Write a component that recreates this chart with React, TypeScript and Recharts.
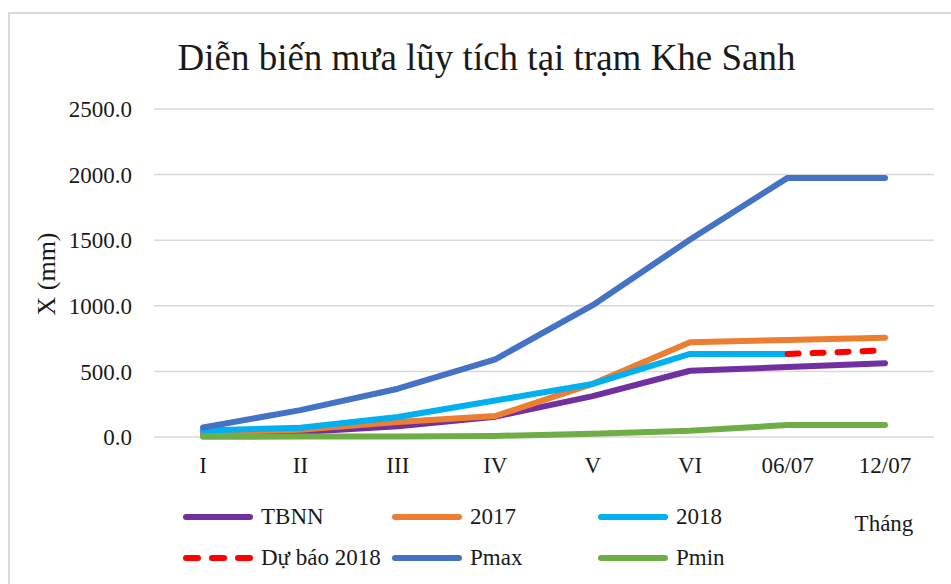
import { LineChart, Line, XAxis, YAxis, CartesianGrid, Legend, Label } from "recharts";

const months = ["I", "II", "III", "IV", "V", "VI", "06/07", "12/07"];
const tbnn = [25, 38, 82, 155, 312, 505, 533, 562];
const y2017 = [35, 55, 115, 160, 405, 722, 740, 757];
const y2018 = [50, 70, 152, 278, 405, 633, 633, null];
const duBao2018 = [null, null, null, null, null, null, 633, 660];
const pmax = [72, 205, 368, 592, 1005, 1505, 1975, 1975];
const pmin = [2, 3, 4, 8, 25, 48, 91, 91];
const yTicks = [0, 500, 1000, 1500, 2000, 2500];

const series = [
  { key: "tbnn", name: "TBNN", color: "#7030a0", dash: undefined },
  { key: "y2017", name: "2017", color: "#ed7d31", dash: undefined },
  { key: "y2018", name: "2018", color: "#00b0f0", dash: undefined },
  { key: "duBao", name: "Dự báo 2018", color: "#ff0000", dash: "11 14" },
  { key: "pmax", name: "Pmax", color: "#4472c4", dash: undefined },
  { key: "pmin", name: "Pmin", color: "#70ad47", dash: undefined },
];

const data = months.map((m, i) => ({
  month: m,
  tbnn: tbnn[i],
  y2017: y2017[i],
  y2018: y2018[i],
  duBao: duBao2018[i],
  pmax: pmax[i],
  pmin: pmin[i],
}));

const FONT = "Liberation Serif, DejaVu Serif, serif";
const TEXT = "#1a1a1a";

function LegendBox() {
  return (
    <div
      style={{
        display: "grid",
        gridTemplateColumns: "209px 206px 200px",
        paddingLeft: 183,
        fontFamily: FONT,
        fontSize: 23,
        color: TEXT,
      }}
    >
      {series.map((s) => (
        <div key={s.key} style={{ display: "flex", alignItems: "center", height: 41 }}>
          <svg width={70} height={10} style={{ display: "block" }}>
            <line
              x1={3}
              x2={67}
              y1={5}
              y2={5}
              stroke={s.color}
              strokeWidth={6}
              strokeLinecap="round"
              strokeDasharray={s.dash ? "12 14" : undefined}
            />
          </svg>
          <span style={{ marginLeft: 8, lineHeight: 1 }}>{s.name}</span>
        </div>
      ))}
    </div>
  );
}

export default function App() {
  return (
    <div
      style={{
        position: "absolute",
        left: 0,
        top: 0,
        width: 951,
        height: 584,
        overflow: "hidden",
        background: "#fff",
        fontFamily: FONT,
      }}
    >
      <div
        style={{
          position: "absolute",
          left: 8,
          top: 12,
          width: 1000,
          height: 1000,
          border: "2px solid #d9d9d9",
        }}
      />
      <div
        style={{
          position: "absolute",
          left: 0,
          top: 39,
          width: 973,
          textAlign: "center",
          fontFamily: FONT,
          fontSize: 37,
          lineHeight: 1,
          color: TEXT,
        }}
      >
        Diễn biến mưa lũy tích tại trạm Khe Sanh
      </div>
      <div style={{ position: "absolute", left: 0, top: 0 }}>
        <LineChart
          width={951}
          height={584}
          data={data}
          margin={{ top: 109, right: 17, left: 0, bottom: 0 }}
          style={{ fontFamily: FONT }}
        >
          <CartesianGrid vertical={false} stroke="#d9d9d9" strokeWidth={1.5} />
          <XAxis
            dataKey="month"
            height={147}
            padding={{ left: 49, right: 49 }}
            axisLine={false}
            tickLine={false}
            tickSize={0}
            tickMargin={20}
            tick={{ fontSize: 23, fill: TEXT, fontFamily: FONT }}
            interval={0}
          >
            <Label
              content={({ viewBox }: any) => (
                <text
                  x={viewBox.x + 730}
                  y={viewBox.y + 94}
                  textAnchor="middle"
                  fontSize={23}
                  fontFamily={FONT}
                  fill={TEXT}
                >
                  Tháng
                </text>
              )}
            />
          </XAxis>
          <YAxis
            width={154}
            domain={[0, 2500]}
            ticks={yTicks}
            tickFormatter={(v: number) => v.toFixed(1)}
            axisLine={false}
            tickLine={false}
            tickSize={0}
            tickMargin={22}
            tick={{ fontSize: 23, fill: TEXT, fontFamily: FONT }}
          >
            <Label
              content={() => (
                <text
                  x={46}
                  y={274}
                  transform="rotate(-90, 46, 274)"
                  textAnchor="middle"
                  dominantBaseline="central"
                  fontSize={26}
                  fontFamily={FONT}
                  fill={TEXT}
                >
                  X (mm)
                </text>
              )}
            />
          </YAxis>
          <Legend
            layout="horizontal"
            verticalAlign="middle"
            align="center"
            wrapperStyle={{ top: 496, left: 0, width: 951 }}
            content={() => <LegendBox />}
          />
          {series.map((s) => (
            <Line
              key={s.key}
              type="linear"
              dataKey={s.key}
              name={s.name}
              stroke={s.color}
              strokeWidth={6}
              strokeLinecap="round"
              strokeLinejoin="round"
              strokeDasharray={s.dash}
              dot={false}
              activeDot={false}
              connectNulls={false}
              isAnimationActive={false}
            />
          ))}
        </LineChart>
      </div>
    </div>
  );
}
